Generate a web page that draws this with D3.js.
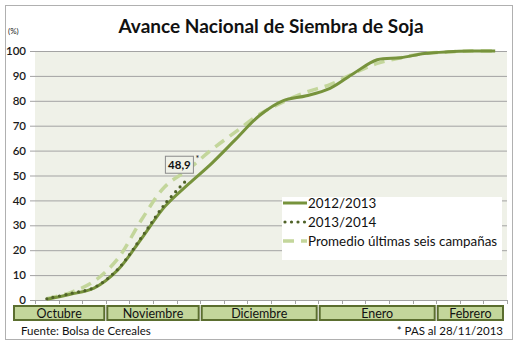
<!DOCTYPE html>
<html>
<head>
<meta charset="utf-8">
<script src="https://cdn.jsdelivr.net/npm/d3@7"></script>
<style>
  html, body { margin: 0; padding: 0; background: #fff; }
  svg { display: block; font-family: Lato, "Open Sans", sans-serif; }
</style>
</head>
<body>
<svg id="chart" width="518" height="347"></svg>
<script>
// Months shown under the axis and how many weekly readings each holds
const months = ["Octubre", "Noviembre", "Diciembre", "Enero", "Febrero"];
const monthWeeks = [3, 4, 5, 5, 3];

// Weekly categories (one per reading)
const weeks = months.flatMap((m, i) => d3.range(monthWeeks[i]).map(k => m.slice(0, 3) + "-" + (k + 1)));

// Cumulative planted area, % of national soybean intention
const campaign2012 = [0.3, 2.3, 4.8, 12, 24.5, 37.5, 46.5, 55, 64.5, 74, 80, 82, 85, 91, 96.5, 97.3, 99, 99.7, 100, 100];
const campaign2013 = [0.5, 2.6, 5, 12.3, 25, 38.5, 48.9];
const sixYearAvg   = [0.5, 3, 7.5, 16.5, 32, 45.5, 52.5, 60.5, 67.5, 74.5, 79.5, 83.5, 86.5, 91, 95, 97.3, 99, 99.6, 100, 100];

const yTicks = d3.range(0, 101, 10);
const seriesNames = ["2012/2013", "2013/2014", "Promedio últimas seis campañas"];

const svg = d3.select("#chart");
const plot = { left: 35, right: 507, top: 51, bottom: 300 };

// outer frame
svg.append("rect").attr("x", 5.5).attr("y", 5.5).attr("width", 507).attr("height", 334)
  .attr("fill", "#fff").attr("stroke", "#b0b0b0").attr("stroke-width", 1);

const x = d3.scaleBand().domain(weeks).range([plot.left, plot.right]).paddingInner(0).paddingOuter(0);
const y = d3.scaleLinear().domain([0, 100]).range([plot.bottom, plot.top]);
const cx = d => x(d) + x.bandwidth() / 2;

// plot background
svg.append("rect").attr("x", plot.left).attr("y", plot.top)
  .attr("width", plot.right - plot.left).attr("height", plot.bottom - plot.top)
  .attr("fill", "#eff1e8");

// horizontal gridlines + y labels
const yAxis = d3.axisLeft(y).tickValues(yTicks).tickSize(-(plot.right - plot.left)).tickPadding(9);
const gy = svg.append("g").attr("transform", `translate(${plot.left},0)`).call(yAxis);
gy.select(".domain").remove();
gy.selectAll(".tick line").attr("stroke", "#a3a3a3").attr("x1", -5);
gy.selectAll(".tick text").attr("font-size", 11.5).attr("fill", "#1a1a1a")
  .attr("font-family", "Lato, sans-serif").attr("font-weight", 600);

// x axis: weekly ticks at band edges
const edges = weeks.map(w => x(w)).concat([plot.right]);
svg.append("line").attr("x1", plot.left).attr("x2", plot.right)
  .attr("y1", plot.bottom + 0.5).attr("y2", plot.bottom + 0.5).attr("stroke", "#a3a3a3");
svg.append("g").selectAll("line").data(edges).join("line")
  .attr("x1", d => Math.round(d) + 0.5).attr("x2", d => Math.round(d) + 0.5)
  .attr("y1", plot.bottom).attr("y2", plot.bottom + 4).attr("stroke", "#a3a3a3");

// month boxes under the axis
let startIdx = 0;
const monthBoxes = months.map((m, i) => {
  const first = weeks[startIdx], last = weeks[startIdx + monthWeeks[i] - 1];
  startIdx += monthWeeks[i];
  let x0 = x(first) + 1.5, x1 = x(last) + x.bandwidth() - 1.5;
  if (i === 0) x0 = 14;
  if (i === months.length - 1) x1 = plot.right - 4;
  return { name: m, x0, x1 };
});
const gm = svg.append("g");
gm.selectAll("rect").data(monthBoxes).join("rect")
  .attr("x", d => d.x0).attr("y", 306).attr("width", d => d.x1 - d.x0).attr("height", 14)
  .attr("fill", "#c3d69b").attr("stroke", "#5b6e2f").attr("stroke-width", 2);
gm.selectAll("text").data(monthBoxes).join("text")
  .attr("x", d => (d.x0 + d.x1) / 2).attr("y", 317.5).attr("text-anchor", "middle")
  .attr("font-size", 12.5).attr("fill", "#111").text(d => d.name);

// series
const line = d3.line().x((d, i) => cx(weeks[i])).y(d => y(d)).curve(d3.curveCatmullRom.alpha(0.5));

svg.append("path").datum(sixYearAvg).attr("d", line).attr("fill", "none")
  .attr("stroke", "#c3d69b").attr("stroke-width", 3.5).attr("stroke-dasharray", "11,7");
svg.append("path").datum(campaign2012).attr("d", line).attr("fill", "none")
  .attr("stroke", "#77933c").attr("stroke-width", 3);
svg.append("path").datum(campaign2013).attr("d", line).attr("fill", "none")
  .attr("stroke", "#4f6228").attr("stroke-width", 3.2).attr("stroke-linecap", "round")
  .attr("stroke-dasharray", "0,6.5");

// value label on the last 2013/2014 reading
const lastI = campaign2013.length - 1;
const lx = cx(weeks[lastI]), ly = y(campaign2013[lastI]);
const lbl = svg.append("g").attr("transform", `translate(${lx - 9},${ly - 13.5})`);
lbl.append("rect").attr("x", -14).attr("y", -8.5).attr("width", 28).attr("height", 17)
  .attr("fill", "#eff1e8").attr("stroke", "#8a8a8a").attr("stroke-width", 1);
lbl.append("text").attr("y", 4).attr("text-anchor", "middle").attr("font-size", 11.5)
  .attr("font-weight", 700).attr("fill", "#111").text(d3.format(".1f")(campaign2013[lastI]).replace(".", ","));
lbl.append("text").attr("x", 16).attr("y", -3).attr("font-size", 9).attr("fill", "#111").text("*");

// legend
const lg = svg.append("g").attr("transform", "translate(282,197)");
lg.append("rect").attr("width", 220).attr("height", 63).attr("fill", "#fff");
const rows = [
  { name: seriesNames[0], color: "#77933c", w: 3, dash: null, cap: "butt" },
  { name: seriesNames[1], color: "#4f6228", w: 3.2, dash: "0,6.5", cap: "round" },
  { name: seriesNames[2], color: "#c3d69b", w: 3.5, dash: "11,7", cap: "butt" }
];
rows.forEach((r, i) => {
  const yy = 6 + i * 19;
  lg.append("line").attr("x1", r.cap === "round" ? 3 : 1).attr("x2", 25).attr("y1", yy).attr("y2", yy)
    .attr("stroke", r.color).attr("stroke-width", r.w).attr("stroke-linecap", r.cap)
    .attr("stroke-dasharray", r.dash);
  lg.append("text").attr("x", 26).attr("y", yy + 4.8).attr("font-size", 13.4).attr("fill", "#111").text(r.name);
});

// titles and notes
svg.append("text").attr("x", 271).attr("y", 33).attr("text-anchor", "middle")
  .attr("font-size", 19).attr("font-weight", 700).attr("fill", "#111")
  .text("Avance Nacional de Siembra de Soja");
svg.append("text").attr("x", 8).attr("y", 34).attr("font-size", 8).attr("fill", "#222").text("(%)");
svg.append("text").attr("x", 21).attr("y", 335).attr("font-size", 11.5).attr("fill", "#111")
  .text("Fuente: Bolsa de Cereales");
svg.append("text").attr("x", 503).attr("y", 335).attr("text-anchor", "end").attr("font-size", 11.5)
  .attr("fill", "#111").text("* PAS al 28/11/2013");
</script>
</body>
</html>
